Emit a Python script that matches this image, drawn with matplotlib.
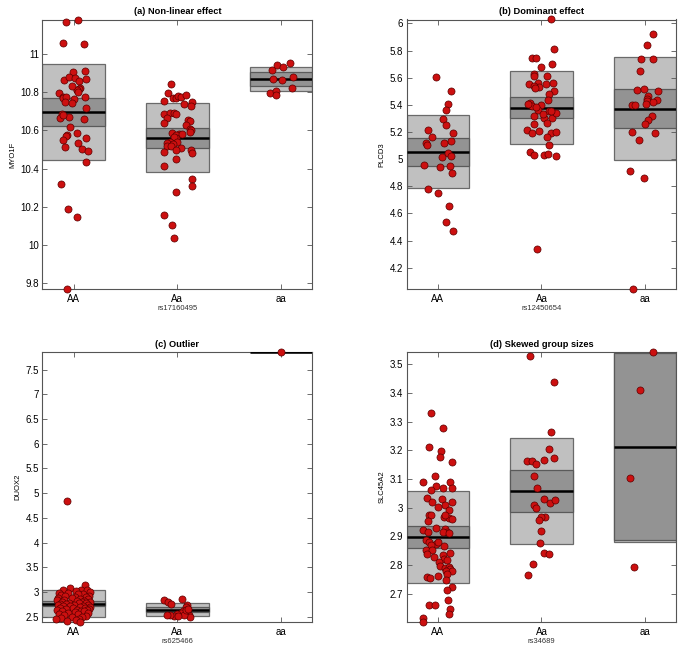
import numpy as np
import matplotlib
matplotlib.use("Agg")
import matplotlib.pyplot as plt
from matplotlib.patches import Rectangle
from matplotlib.ticker import MultipleLocator, FormatStrFormatter

plt.rcParams["font.family"] = ["Liberation Sans", "DejaVu Sans"]

genotypes = ["AA", "Aa", "aa"]

# ---- panel (a) ----
a_title = "(a) Non-linear effect"
a_gene = "MYO1F"
a_snp = "rs17160495"
a_AA = [11.168, 11.182, 11.061, 11.052, 10.904, 10.914, 10.866, 10.883, 10.876, 10.857,
        10.869, 10.813, 10.824, 10.820, 10.810, 10.796, 10.778, 10.771, 10.775, 10.832,
        10.801, 10.775, 10.750, 10.764, 10.743, 10.719, 10.687, 10.666, 10.673, 10.679,
        10.661, 10.617, 10.576, 10.570, 10.589, 10.548, 10.558, 10.513, 10.534, 10.502,
        10.492, 10.434, 10.321, 10.190, 10.148, 9.767]
a_AA_jit = [-0.07, 0.04, -0.10, 0.10, -0.01, 0.11, -0.09, -0.04, 0.01, 0.05,
            0.12, 0.03, 0.06, 0.05, 0.03, -0.14, -0.10, -0.10, -0.07, -0.02,
            0.04, 0.11, -0.08, 0.00, -0.02, 0.12, -0.11, -0.13, -0.04, -0.10,
            0.10, -0.03, -0.06, -0.07, 0.03, -0.10, 0.12, -0.08, 0.04, 0.08,
            0.14, 0.12, -0.12, -0.05, 0.03, -0.06]
a_Aa = [10.845, 10.797, 10.754, 10.769, 10.771, 10.782, 10.775, 10.785, 10.740, 10.747,
        10.728, 10.687, 10.694, 10.694, 10.684, 10.666, 10.656, 10.649, 10.640, 10.631,
        10.610, 10.600, 10.586, 10.591, 10.581, 10.574, 10.579, 10.562, 10.565, 10.539,
        10.541, 10.534, 10.527, 10.516, 10.520, 10.509, 10.500, 10.488, 10.497, 10.481,
        10.413, 10.448, 10.347, 10.308, 10.277, 10.158, 10.102, 10.038]
a_Aa_jit = [-0.06, -0.09, -0.13, -0.04, -0.01, 0.01, 0.03, 0.08, 0.06, 0.14,
            0.13, -0.13, -0.07, -0.03, -0.01, -0.10, 0.10, 0.12, -0.13, 0.08,
            0.12, 0.13, -0.05, 0.12, 0.02, -0.01, 0.04, -0.01, -0.03, -0.07,
            0.00, -0.10, -0.04, -0.10, -0.06, 0.03, -0.01, -0.13, 0.13, 0.14,
            -0.13, -0.01, 0.14, 0.14, -0.01, -0.13, -0.05, -0.03]
a_aa = [10.918, 10.941, 10.935, 10.955, 10.871, 10.864, 10.881, 10.824, 10.796, 10.806, 10.785]
a_aa_jit = [-0.09, -0.04, 0.02, 0.08, -0.08, 0.01, 0.11, 0.10, -0.11, -0.05, -0.05]
a_mean = [10.698, 10.562, 10.871]
a_ci = [0.074, 0.053, 0.038]
a_sd = [0.252, 0.182, 0.063]
a_ystep = 0.2

# ---- panel (b) ----
b_title = "(b) Dominant effect"
b_gene = "PLCD3"
b_snp = "rs12450654"
b_AA = [5.608, 5.500, 5.216, 5.407, 5.297, 5.361, 5.160, 5.253, 5.121, 5.106,
        5.189, 5.135, 5.116, 5.042, 5.025, 5.018, 4.944, 4.949, 4.900, 4.959,
        4.778, 4.751, 4.653, 4.533, 4.469]
b_AA_jit = [-0.02, 0.13, -0.10, 0.10, 0.05, 0.08, -0.06, 0.08, -0.12, -0.11,
            0.15, 0.13, 0.06, 0.10, 0.13, 0.04, 0.02, 0.12, 0.14, -0.13,
            -0.10, 0.00, 0.11, 0.08, 0.15]
b_Aa = [6.029, 5.809, 5.748, 5.748, 5.704, 5.682, 5.630, 5.615, 5.611, 5.552,
        5.564, 5.532, 5.552, 5.562, 5.540, 5.522, 5.503, 5.478, 5.434, 5.414,
        5.395, 5.405, 5.400, 5.361, 5.356, 5.319, 5.302, 5.302, 5.339, 5.356,
        5.258, 5.265, 5.216, 5.194, 5.209, 5.194, 5.199, 5.160, 5.101, 5.055,
        5.033, 5.033, 5.035, 5.023, 4.339, 5.336, 5.385]
b_Aa_jit = [0.09, 0.12, -0.09, -0.05, 0.10, 0.00, -0.07, -0.07, 0.05, -0.12,
            -0.03, -0.02, 0.04, 0.11, -0.07, -0.06, 0.12, 0.07, 0.06, -0.11,
            -0.09, -0.13, 0.00, -0.03, 0.07, -0.07, 0.02, 0.10, 0.14, 0.09,
            -0.07, 0.05, -0.14, -0.09, -0.02, 0.09, 0.14, 0.05, 0.07, -0.11,
            -0.07, 0.02, 0.06, 0.14, -0.04, 0.01, -0.05]
b_aa = [5.919, 5.841, 5.735, 5.738, 5.650, 5.510, 5.515, 5.503, 5.466, 5.446,
        5.437, 5.429, 5.422, 5.397, 5.397, 5.405, 5.319, 5.290, 5.258, 5.201,
        5.143, 5.192, 4.915, 4.864, 4.041]
b_aa_jit = [0.08, 0.02, -0.04, 0.08, -0.05, -0.08, -0.01, 0.13, 0.03, 0.02,
            0.12, 0.02, 0.08, -0.13, -0.10, 0.01, 0.07, 0.03, 0.00, -0.13,
            -0.06, 0.10, -0.15, -0.01, -0.12]
b_mean = [5.055, 5.380, 5.373]
b_ci = [0.102, 0.075, 0.147]
b_sd = [0.270, 0.267, 0.380]
b_ystep = 0.2

# ---- panel (c) ----
c_title = "(c) Outlier"
c_gene = "DUOX2"
c_snp = "rs625466"
c_AA = [4.85, 3.14, 3.07, 3.03, 3.03, 3.04, 3.02, 2.97, 3.00, 2.98,
        2.95, 2.93, 2.96, 2.91, 2.92, 2.89, 2.90, 2.88, 2.86, 2.87,
        2.85, 2.84, 2.82, 2.83, 2.81, 2.80, 2.79, 2.80, 2.78, 2.77,
        2.76, 2.77, 2.75, 2.74, 2.73, 2.74, 2.72, 2.71, 2.70, 2.71,
        2.69, 2.68, 2.67, 2.68, 2.66, 2.65, 2.64, 2.63, 2.64, 2.62,
        2.61, 2.60, 2.61, 2.58, 2.57, 2.55, 2.56, 2.53, 2.52, 2.50,
        2.49, 2.47, 2.46, 2.45, 2.43, 2.41, 2.39]
c_AA_jit = [-0.06, 0.11, -0.03, 0.07, 0.13, -0.10, 0.02, -0.14, 0.16, -0.05,
            0.09, -0.12, 0.04, 0.15, -0.08, 0.01, 0.12, -0.15, 0.06, -0.02,
            0.14, -0.09, 0.10, -0.16, 0.03, 0.08, -0.11, 0.16, -0.04, 0.12,
            -0.13, 0.05, -0.07, 0.14, 0.00, -0.15, 0.09, -0.03, 0.16, -0.10,
            0.06, -0.13, 0.11, -0.01, 0.15, -0.07, 0.03, -0.16, 0.13, 0.07,
            -0.11, 0.01, 0.10, -0.05, 0.14, -0.14, 0.04, -0.09, 0.12, -0.02,
            0.08, -0.12, 0.05, -0.17, 0.02, -0.06, 0.06]
c_Aa = [2.837, 2.803, 2.756, 2.857, 2.743, 2.689, 2.621, 2.581, 2.554, 2.520,
        2.534, 2.540, 2.567, 2.527, 2.500, 2.540, 2.513, 2.635, 2.648]
c_Aa_jit = [-0.13, -0.09, -0.06, 0.04, 0.09, 0.08, 0.05, 0.03, 0.00, -0.03,
            -0.07, -0.10, 0.09, 0.11, 0.12, 0.06, 0.01, 0.08, 0.10]
c_aa = [7.85]
c_aa_jit = [0.0]
c_mean = [2.763, 2.641, 7.85]
c_ci = [0.053, 0.057, 0.0]
c_sd = [0.276, 0.125, 0.0]
c_ystep = 0.5

# ---- panel (d) ----
d_title = "(d) Skewed group sizes"
d_gene = "SLC45A2"
d_snp = "rs34689"
d_AA = [3.328, 3.277, 3.210, 3.198, 3.177, 3.158, 3.109, 3.088, 3.091, 3.075,
        3.063, 3.068, 3.068, 3.035, 3.030, 3.021, 3.019, 3.009, 3.002, 2.993,
        2.975, 2.973, 2.954, 2.966, 2.964, 2.961, 2.975, 2.924, 2.917, 2.928,
        2.926, 2.917, 2.914, 2.912, 2.886, 2.882, 2.872, 2.882, 2.870, 2.868,
        2.853, 2.853, 2.839, 2.837, 2.830, 2.844, 2.823, 2.818, 2.811, 2.797,
        2.790, 2.793, 2.786, 2.778, 2.778, 2.769, 2.760, 2.757, 2.762, 2.748,
        2.725, 2.715, 2.661, 2.661, 2.678, 2.647, 2.631, 2.617, 2.602]
d_AA_jit = [-0.07, 0.05, -0.09, 0.03, 0.02, 0.14, -0.03, -0.14, 0.12, -0.02,
            -0.07, 0.05, 0.14, -0.11, 0.04, -0.06, 0.14, 0.07, 0.00, 0.11,
            -0.09, -0.07, -0.10, 0.06, 0.11, 0.14, 0.07, -0.14, -0.10, -0.02,
            0.07, 0.09, 0.05, 0.11, -0.12, -0.09, -0.02, 0.00, -0.07, 0.06,
            -0.12, -0.06, -0.11, 0.05, -0.04, 0.12, 0.06, 0.09, 0.01, 0.02,
            0.07, 0.11, 0.12, 0.08, 0.14, 0.09, -0.11, -0.08, 0.00, 0.08,
            0.14, 0.09, -0.09, -0.03, 0.10, 0.12, 0.11, -0.14, -0.14]
d_Aa = [3.529, 3.439, 3.263, 3.206, 3.163, 3.164, 3.152, 3.166, 3.173, 3.112,
        3.069, 3.009, 2.998, 3.031, 3.017, 3.027, 2.968, 2.966, 2.958, 2.920,
        2.876, 2.842, 2.839, 2.805, 2.766]
d_Aa_jit = [-0.11, 0.12, 0.09, 0.07, -0.14, -0.09, -0.05, 0.02, 0.12, -0.07,
            -0.04, -0.07, -0.05, 0.02, 0.08, 0.13, 0.03, 0.00, -0.02, 0.00,
            -0.01, 0.02, 0.07, -0.08, -0.13]
d_aa = [3.541, 3.409, 3.104, 2.795]
d_aa_jit = [0.08, -0.05, -0.15, -0.11]
d_mean = [2.898, 3.058, 3.213]
d_ci = [0.038, 0.072, 0.326]
d_sd = [0.161, 0.185, 0.333]
d_ystep = 0.1

panels = [
    (a_title, a_gene, a_snp, [a_AA, a_Aa, a_aa], [a_AA_jit, a_Aa_jit, a_aa_jit], a_mean, a_ci, a_sd, a_ystep),
    (b_title, b_gene, b_snp, [b_AA, b_Aa, b_aa], [b_AA_jit, b_Aa_jit, b_aa_jit], b_mean, b_ci, b_sd, b_ystep),
    (c_title, c_gene, c_snp, [c_AA, c_Aa, c_aa], [c_AA_jit, c_Aa_jit, c_aa_jit], c_mean, c_ci, c_sd, c_ystep),
    (d_title, d_gene, d_snp, [d_AA, d_Aa, d_aa], [d_AA_jit, d_Aa_jit, d_aa_jit], d_mean, d_ci, d_sd, d_ystep),
]

fig = plt.figure(figsize=(6.85, 6.5), dpi=100)
rects = [
    [0.062, 0.555, 0.394, 0.415],
    [0.594, 0.555, 0.393, 0.415],
    [0.062, 0.043, 0.394, 0.415],
    [0.594, 0.043, 0.393, 0.415],
]

half = 0.3
for rect, (title, gene, snp, groups, jits, means, cis, sds, ystep) in zip(rects, panels):
    ax = fig.add_axes(rect)
    allv = np.concatenate([np.asarray(g) for g in groups])
    for i, (vals, jit) in enumerate(zip(groups, jits)):
        x0 = i + 1
        m, ci, sd = means[i], cis[i], sds[i]
        # light box = SD, dark band = 95% CI, black line = mean
        ax.add_patch(Rectangle((x0 - half, m - sd), 2 * half, 2 * sd,
                               facecolor="#c0c0c0", edgecolor="#6a6a6a", lw=0.9, zorder=1))
        ax.add_patch(Rectangle((x0 - half, m - ci), 2 * half, 2 * ci,
                               facecolor="#939393", edgecolor="#5a5a5a", lw=0.9, zorder=2))
        ax.plot([x0 - half, x0 + half], [m, m], color="black", lw=1.8, zorder=3,
                solid_capstyle="butt")
        ax.scatter(x0 + np.asarray(jit), vals, s=26, color="#cc1010",
                   edgecolors="#5a0000", linewidths=0.5, zorder=4, clip_on=False)

    ax.set_xlim(0.7, 3.3)
    ax.set_ylim(allv.min(), allv.max())
    ax.set_xticks([1, 2, 3])
    ax.set_xticklabels(genotypes)
    ax.yaxis.set_major_locator(MultipleLocator(ystep))
    ax.yaxis.set_major_formatter(FormatStrFormatter("%g"))
    ax.tick_params(direction="in", length=3.5, width=0.6, labelsize=7,
                   top=True, right=True, color="#555555", pad=2.5)
    ax.tick_params(axis="x", pad=3.5)
    for sp in ax.spines.values():
        sp.set_color("#555555")
        sp.set_linewidth(0.8)
    ax.set_title(title, fontsize=6.7, fontweight="bold", pad=4)
    ax.set_ylabel(gene, fontsize=5.5, labelpad=3)
    ax.set_xlabel(snp, fontsize=5.5, labelpad=1, color="#333333")

fig.savefig("out.png", dpi=100)
